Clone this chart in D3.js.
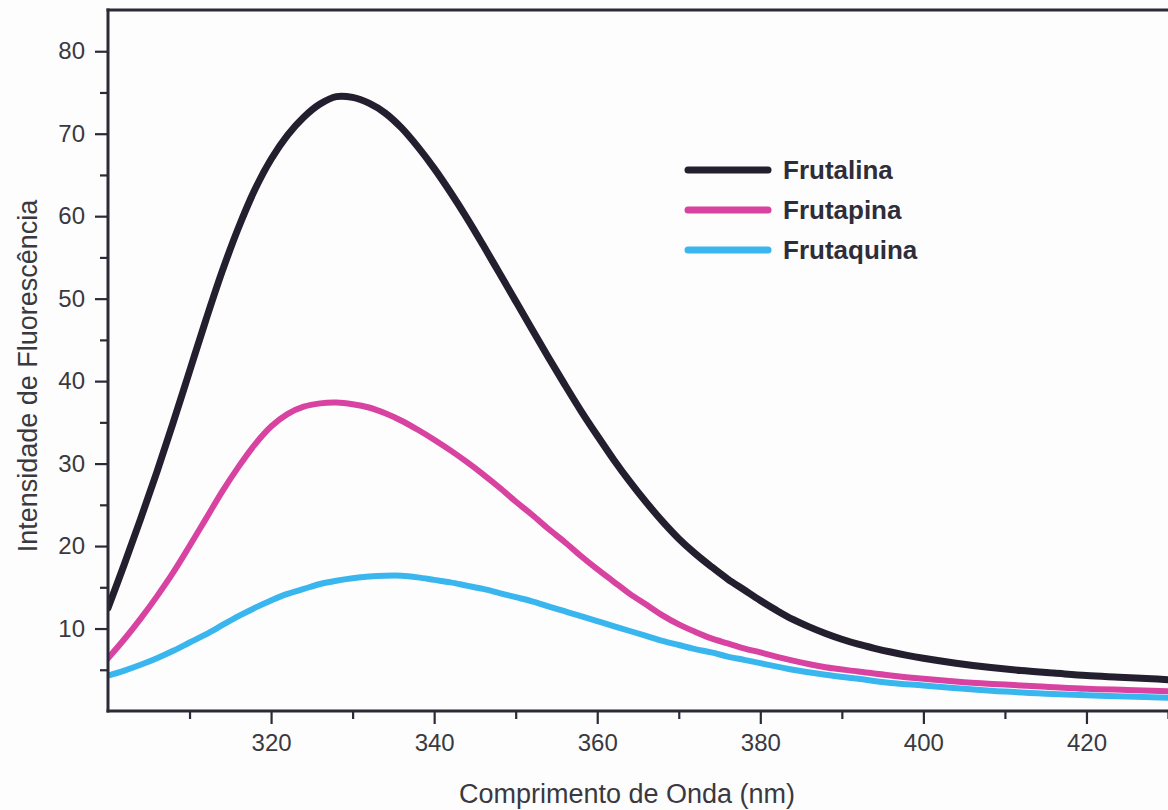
<!DOCTYPE html>
<html>
<head>
<meta charset="utf-8">
<script src="https://cdn.jsdelivr.net/npm/d3@7"></script>
<style>
  html, body { margin: 0; padding: 0; background: #fdfdfe; }
  svg { display: block; font-family: "Liberation Sans", Arial, sans-serif; }
</style>
</head>
<body>
<svg id="chart" width="1168" height="810"></svg>
<script>
// Emission spectra (wavelength in nm, fluorescence intensity)
const wavelengthsA = [300,302,304,306,308,310,312,314,316,318,320,322,324,326,328,330,332,334,336,338,340,342,344,346,348,350,352,354,356,358,360,362,364,366,368,370,372,374,376,378,380,382,384,386,388,390,392,394,396,398,400,404,408,412,416,420,424,428,430];
const frutalina = [12.5,17.8,23.3,29,35,41.2,47.4,53.3,58.6,63.2,66.9,69.8,72,73.6,74.5,74.4,73.7,72.5,70.7,68.4,65.8,62.9,59.8,56.5,53.1,49.7,46.3,42.9,39.6,36.4,33.4,30.5,27.8,25.3,23,20.9,19.1,17.5,16,14.7,13.4,12.2,11.1,10.2,9.4,8.7,8.1,7.6,7.15,6.75,6.4,5.8,5.3,4.9,4.6,4.3,4.1,3.9,3.8];

const wavelengthsB = [300,302,304,306,308,310,312,314,316,318,320,322,324,326,328,330,332,334,336,338,340,342,344,346,348,350,352,354,356,358,360,362,364,366,368,370,372,374,376,378,380,384,388,392,396,400,405,410,415,420,425,430];
const frutapina = [6.4,8.7,11.2,13.9,16.8,20,23.3,26.6,29.6,32.3,34.5,36,36.9,37.3,37.4,37.2,36.8,36.1,35.2,34.1,32.9,31.6,30.2,28.7,27.1,25.4,23.8,22.1,20.5,18.8,17.2,15.7,14.2,12.9,11.6,10.5,9.6,8.8,8.2,7.6,7.1,6.1,5.3,4.8,4.3,3.9,3.5,3.2,2.95,2.7,2.55,2.4];
const frutaquina = [4.3,4.9,5.6,6.4,7.3,8.3,9.3,10.4,11.5,12.5,13.4,14.2,14.8,15.4,15.8,16.1,16.3,16.4,16.4,16.2,15.9,15.6,15.2,14.8,14.3,13.8,13.3,12.7,12.1,11.5,10.9,10.3,9.7,9.1,8.5,8.0,7.5,7.1,6.6,6.2,5.8,5.0,4.4,3.9,3.4,3.1,2.7,2.35,2.1,1.9,1.75,1.6];

const seriesNames = ["Frutalina", "Frutapina", "Frutaquina"];
const seriesColors = ["#241f2e", "#d843a2", "#3ab6ef"];
const seriesWidths = [7, 6, 6];

const xMajorTicks = [320, 340, 360, 380, 400, 420];
const xMinorTicks = [310, 330, 350, 370, 390, 410, 430];
const yMajorTicks = [10, 20, 30, 40, 50, 60, 70, 80];
const yMinorTicks = [5, 15, 25, 35, 45, 55, 65, 75];

const xTitle = "Comprimento de Onda (nm)";
const yTitle = "Intensidade de Fluorescência";

const svg = d3.select("#chart");
const plotLeft = 108, plotTop = 10, plotBottom = 711, plotRight = 1168;
const ink = "#2c2a36";
const textInk = "#3a3940";

const x = d3.scaleLinear().domain([300, 430]).range([plotLeft, plotRight]);
const y = d3.scaleLinear().domain([0, 85]).range([plotBottom, plotTop]);

svg.append("defs").append("clipPath").attr("id", "plotClip")
  .append("rect").attr("x", plotLeft).attr("y", plotTop)
  .attr("width", plotRight - plotLeft + 10).attr("height", plotBottom - plotTop);

// curves
const series = [
  { name: seriesNames[0], xs: wavelengthsA, ys: frutalina },
  { name: seriesNames[1], xs: wavelengthsB, ys: frutapina },
  { name: seriesNames[2], xs: wavelengthsB, ys: frutaquina }
];
const line = d3.line().x(d => x(d[0])).y(d => y(d[1])).curve(d3.curveCatmullRom.alpha(0.5));
const plot = svg.append("g").attr("clip-path", "url(#plotClip)");
series.forEach((s, i) => {
  plot.append("path")
    .datum(s.xs.map((w, k) => [w, s.ys[k]]))
    .attr("fill", "none")
    .attr("stroke", seriesColors[i])
    .attr("stroke-width", seriesWidths[i])
    .attr("stroke-linejoin", "round")
    .attr("stroke-linecap", "round")
    .attr("d", line);
});

// axes
const xAxis = svg.append("g").attr("transform", `translate(0,${plotBottom})`)
  .call(d3.axisBottom(x).tickValues(xMajorTicks).tickFormat(d3.format("d")).tickSize(13).tickPadding(10));
const xMinor = svg.append("g").attr("transform", `translate(0,${plotBottom})`)
  .call(d3.axisBottom(x).tickValues(xMinorTicks).tickFormat("").tickSize(8));
const yAxis = svg.append("g").attr("transform", `translate(${plotLeft},0)`)
  .call(d3.axisLeft(y).tickValues(yMajorTicks).tickFormat(d3.format("d")).tickSize(13).tickPadding(10));
const yMinor = svg.append("g").attr("transform", `translate(${plotLeft},0)`)
  .call(d3.axisLeft(y).tickValues(yMinorTicks).tickFormat("").tickSize(8));

[xAxis, xMinor, yAxis, yMinor].forEach(g => {
  g.select(".domain").remove();
  g.selectAll(".tick line").attr("stroke", ink).attr("stroke-width", 2.2);
  g.selectAll(".tick text").attr("fill", textInk).attr("font-size", 24)
    .attr("font-family", '"Liberation Sans", Arial, sans-serif');
});

// frame: left, bottom and top edges
svg.append("line").attr("x1", plotLeft).attr("x2", plotLeft).attr("y1", plotTop - 1.5).attr("y2", plotBottom + 1.5)
  .attr("stroke", ink).attr("stroke-width", 3);
svg.append("line").attr("x1", plotLeft - 1.5).attr("x2", plotRight).attr("y1", plotBottom).attr("y2", plotBottom)
  .attr("stroke", ink).attr("stroke-width", 3);
svg.append("line").attr("x1", plotLeft - 1.5).attr("x2", plotRight).attr("y1", plotTop).attr("y2", plotTop)
  .attr("stroke", ink).attr("stroke-width", 3);

// axis titles
svg.append("text").attr("x", 627).attr("y", 803).attr("text-anchor", "middle")
  .attr("font-size", 27).attr("fill", textInk).text(xTitle);
svg.append("text").attr("transform", "translate(37,376) rotate(-90)").attr("text-anchor", "middle")
  .attr("font-size", 27).attr("fill", textInk).text(yTitle);

// legend
const legend = svg.append("g").attr("transform", "translate(688,170)");
seriesNames.forEach((name, i) => {
  const g = legend.append("g").attr("transform", `translate(0,${i * 40})`);
  g.append("line").attr("x1", 0).attr("x2", 80).attr("y1", 0).attr("y2", 0)
    .attr("stroke", seriesColors[i]).attr("stroke-width", 7).attr("stroke-linecap", "round");
  g.append("text").attr("x", 95).attr("y", 9).attr("font-size", 26).attr("font-weight", "bold")
    .attr("fill", "#2f2d3a").text(name);
});
</script>
</body>
</html>
